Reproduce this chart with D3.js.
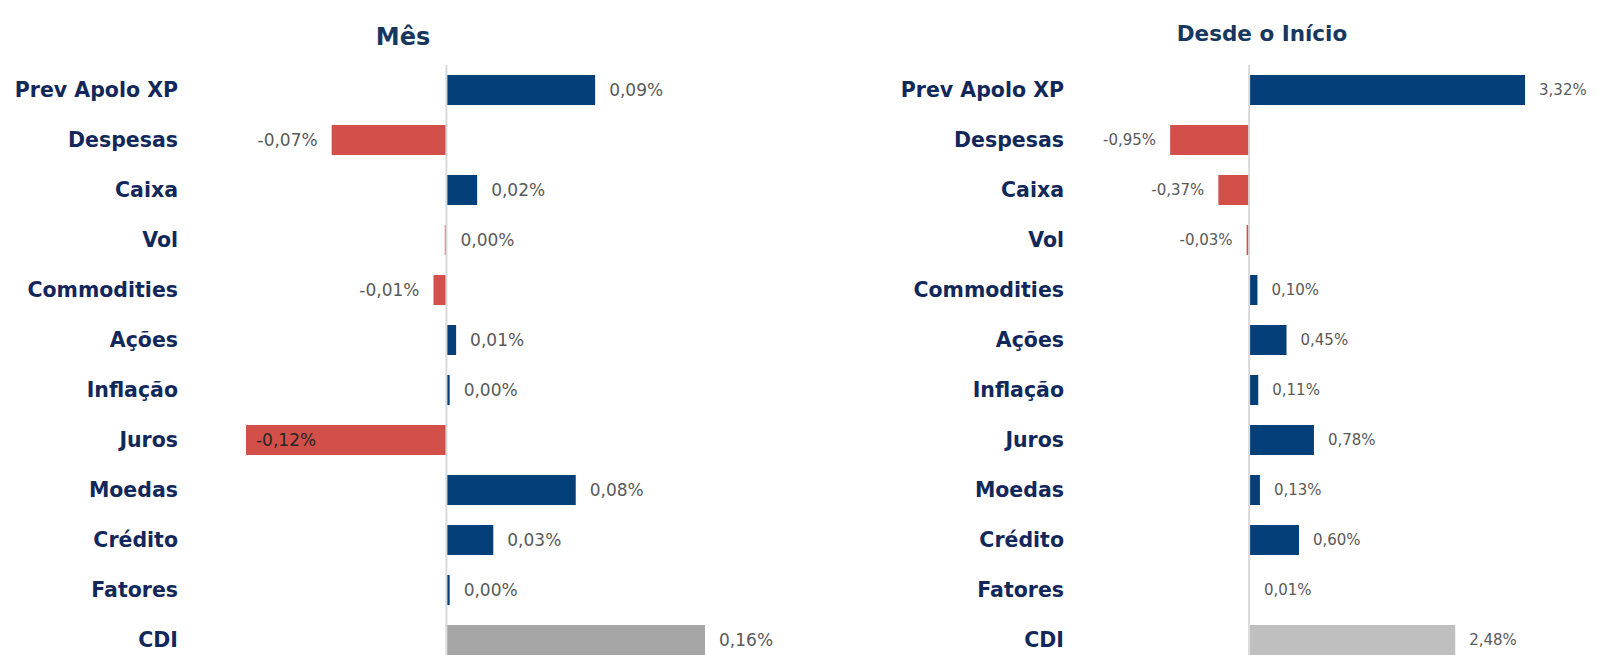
<!DOCTYPE html>
<html>
<head>
<meta charset="utf-8">
<script src="https://cdn.jsdelivr.net/npm/d3@7"></script>
<style>
  body { margin: 0; background: #fff; }
  svg { display: block; }
</style>
</head>
<body>
<div class="chart"></div>
<script>
// Data
const categories = ["Prev Apolo XP", "Despesas", "Caixa", "Vol", "Commodities", "Ações",
                    "Inflação", "Juros", "Moedas", "Crédito", "Fatores", "CDI"];
const mesValues = [0.092, -0.071, 0.019, -0.001, -0.008, 0.006, 0.002, -0.124, 0.080, 0.029, 0.002, 0.160];
const inicioValues = [3.32, -0.95, -0.37, -0.03, 0.10, 0.45, 0.11, 0.78, 0.13, 0.60, 0.01, 2.48];
const titles = ["Mês", "Desde o Início"];

const width = 1601, height = 655;
const navy = "#13285a", blue = "#053f7a", red = "#d24f4a";

const svg = d3.select(".chart").append("svg")
    .attr("width", width)
    .attr("height", height);

const y = d3.scaleBand()
    .domain(categories)
    .range([65, 665])
    .paddingInner(0.4)
    .paddingOuter(0.2);

const round2 = v => Math.round(v * 100) / 100;
const fmt = v => {
    const r = round2(v);
    return (r === 0 ? 0 : r).toFixed(2).replace(".", ",") + "%";
};

// one panel per series
const panels = [
    { title: titles[0], values: mesValues, domain: [-0.13, 0.17], range: [236.3, 721.2],
      labelRight: 178, titleX: 403, titleY: 45, titleSize: 24, valueSize: 17, cdi: "#a6a6a6", minX: 195 },
    { title: titles[1], values: inicioValues, domain: [-1, 3.5], range: [1166, 1540],
      labelRight: 1064, titleX: 1262, titleY: 41, titleSize: 21.5, valueSize: 15, cdi: "#bfbfbf", minX: 1080 }
];

panels.forEach(p => {
    const x = d3.scaleLinear().domain(p.domain).range(p.range);
    const g = svg.append("g");

    g.append("text")
        .attr("x", p.titleX)
        .attr("y", p.titleY)
        .attr("text-anchor", "middle")
        .style("font-family", "'DejaVu Sans', sans-serif")
        .style("font-weight", "bold")
        .style("font-size", p.titleSize + "px")
        .style("fill", "#17375e")
        .text(p.title);

    // category labels
    g.selectAll(".cat")
        .data(categories)
        .enter().append("text")
        .attr("class", "cat")
        .attr("x", p.labelRight)
        .attr("y", d => y(d) + y.bandwidth() / 2)
        .attr("dy", "0.36em")
        .attr("text-anchor", "end")
        .style("font-family", "'DejaVu Sans', sans-serif")
        .style("font-weight", "bold")
        .style("font-size", "20.5px")
        .style("fill", navy)
        .text(d => d);

    const rows = categories.map((c, i) => ({ name: c, value: p.values[i] }));

    g.selectAll(".bar")
        .data(rows)
        .enter().append("rect")
        .attr("class", "bar")
        .attr("x", d => x(Math.min(0, d.value)))
        .attr("y", d => y(d.name))
        .attr("width", d => Math.max(0.8, Math.abs(x(d.value) - x(0))))
        .attr("height", y.bandwidth())
        .style("fill", d => d.name === "CDI" ? p.cdi : (d.value < 0 ? red : blue));

    // zero line
    g.append("line")
        .attr("x1", x(0)).attr("x2", x(0))
        .attr("y1", 65).attr("y2", height)
        .style("stroke", "#d9d9d9")
        .style("stroke-width", 2);

    g.selectAll(".val")
        .data(rows)
        .enter().append("text")
        .attr("class", "val")
        .attr("y", d => y(d.name) + y.bandwidth() / 2)
        .attr("dy", "0.36em")
        .style("font-family", "'DejaVu Sans', sans-serif")
        .style("font-size", p.valueSize + "px")
        .style("fill", "#595959")
        .text(d => fmt(d.value))
        .each(function(d) {
            const t = d3.select(this);
            const w = this.getComputedTextLength();
            if (round2(d.value) >= 0) {
                t.attr("x", Math.max(x(d.value), x(0)) + 14).attr("text-anchor", "start");
            } else if (x(d.value) - 14 - w < p.minX) {
                // no room on the left: put it inside the bar
                t.attr("x", x(d.value) + 10).attr("text-anchor", "start").style("fill", "#262626");
            } else {
                t.attr("x", x(d.value) - 14).attr("text-anchor", "end");
            }
        });
});
</script>
</body>
</html>
